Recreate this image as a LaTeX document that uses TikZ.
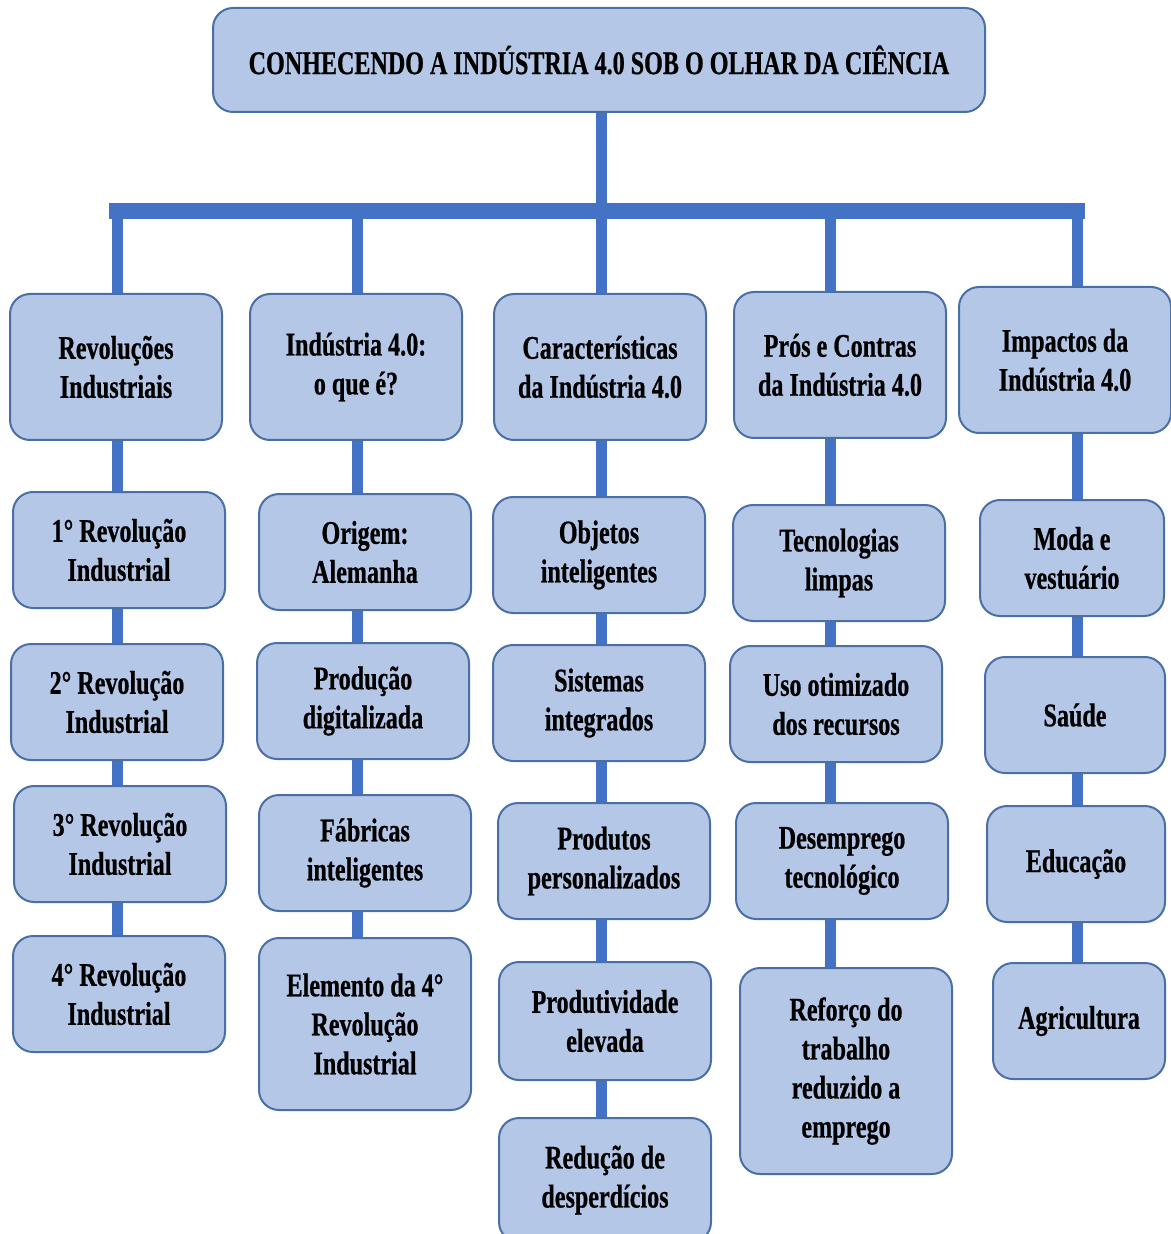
\documentclass[tikz,border=0pt]{standalone}
\usepackage{fontspec}
\setmainfont{Liberation Serif}[FakeStretch=0.73, BoldFeatures={FakeBold=0.6}]
\definecolor{boxfill}{HTML}{B4C7E7}
\definecolor{boxline}{HTML}{4A6FA5}
\definecolor{linkblue}{HTML}{4472C4}
\begin{document}
\begin{tikzpicture}[x=0.5pt, y=-0.5pt,
    box/.style={draw=boxline, fill=boxfill, line width=1pt, rounded corners=10pt,
        align=center, inner sep=2pt, minimum width=106pt, minimum height=58pt,
        font=\fontsize{16.5}{19.5}\selectfont\bfseries},
    link/.style={draw=linkblue, line width=5.5pt},
    bar/.style={draw=linkblue, line width=8pt, line cap=rect}]
\useasboundingbox (0,0) rectangle (1170,1234);

% title
\node[box, minimum width=386pt, minimum height=52pt] (T) at (599,60) {CONHECENDO A INDÚSTRIA 4.0 SOB O OLHAR DA CIÊNCIA};

% column tops
\coordinate (s) at (601,211);
\coordinate (t1) at (117,211);
\coordinate (t2) at (357,211);
\coordinate (t3) at (601,211);
\coordinate (t4) at (830,211);
\coordinate (t5) at (1077,211);

% column 1
\node[box, minimum height=73pt] (R) at (116,367) {Revoluções\\Industriais};
\node[box] (R1) at (119,550) {1° Revolução\\Industrial};
\node[box] (R2) at (117,702) {2° Revolução\\Industrial};
\node[box] (R3) at (120,844) {3° Revolução\\Industrial};
\node[box] (R4) at (119,994) {4° Revolução\\Industrial};

% column 2
\node[box, minimum height=73pt] (I) at (356,367) {Indústria 4.0:\\o que é?};
\node[box] (I1) at (365,552) {Origem:\\Alemanha};
\node[box] (I2) at (363,701) {Produção\\digitalizada};
\node[box] (I3) at (365,853) {Fábricas\\inteligentes};
\node[box, minimum height=86pt] (I4) at (365,1024) {Elemento da 4°\\Revolução\\Industrial};

% column 3
\node[box, minimum height=73pt] (C) at (600,367) {Características\\da Indústria 4.0};
\node[box] (C1) at (599,555) {Objetos\\inteligentes};
\node[box] (C2) at (599,703) {Sistemas\\integrados};
\node[box] (C3) at (604,861) {Produtos\\personalizados};
\node[box, minimum height=59pt] (C4) at (605,1021) {Produtividade\\elevada};
\node[box, minimum height=62pt] (C5) at (605,1180) {Redução de\\desperdícios};

% column 4
\node[box, minimum height=73pt] (P) at (840,365) {Prós e Contras\\da Indústria 4.0};
\node[box] (P1) at (839,563) {Tecnologias\\limpas};
\node[box] (P2) at (836,704) {Uso otimizado\\dos recursos};
\node[box] (P3) at (842,861) {Desemprego\\tecnológico};
\node[box, minimum height=103pt] (P4) at (846,1071) {Reforço do\\trabalho\\reduzido a\\emprego};

% column 5
\node[box, minimum width=106pt, minimum height=73pt] (M) at (1065,360) {Impactos da\\Indústria 4.0};
\node[box, minimum width=92pt] (M1) at (1072,558) {Moda e\\vestuário};
\node[box, minimum width=90pt] (M2) at (1075,715) {Saúde};
\node[box, minimum width=89pt] (M3) at (1076,864) {Educação};
\node[box, minimum width=86pt] (M4) at (1079,1021) {Agricultura};

% links
\draw[link] (T.south -| s) -- (s);
\draw[bar] (t1) -- (t5);
\draw[link] (t1) -- (t1 |- R.north);
\draw[link] (t2) -- (t2 |- I.north);
\draw[link] (t3) -- (t3 |- C.north);
\draw[link] (t4) -- (t4 |- P.north);
\draw[link] (t5) -- (t5 |- M.north);

\draw[link] (t1 |- R.south) -- (t1 |- R1.north);
\draw[link] (t1 |- R1.south) -- (t1 |- R2.north);
\draw[link] (t1 |- R2.south) -- (t1 |- R3.north);
\draw[link] (t1 |- R3.south) -- (t1 |- R4.north);

\draw[link] (t2 |- I.south) -- (t2 |- I1.north);
\draw[link] (t2 |- I1.south) -- (t2 |- I2.north);
\draw[link] (t2 |- I2.south) -- (t2 |- I3.north);
\draw[link] (t2 |- I3.south) -- (t2 |- I4.north);

\draw[link] (t3 |- C.south) -- (t3 |- C1.north);
\draw[link] (t3 |- C1.south) -- (t3 |- C2.north);
\draw[link] (t3 |- C2.south) -- (t3 |- C3.north);
\draw[link] (t3 |- C3.south) -- (t3 |- C4.north);
\draw[link] (t3 |- C4.south) -- (t3 |- C5.north);

\draw[link] (t4 |- P.south) -- (t4 |- P1.north);
\draw[link] (t4 |- P1.south) -- (t4 |- P2.north);
\draw[link] (t4 |- P2.south) -- (t4 |- P3.north);
\draw[link] (t4 |- P3.south) -- (t4 |- P4.north);

\draw[link] (t5 |- M.south) -- (t5 |- M1.north);
\draw[link] (t5 |- M1.south) -- (t5 |- M2.north);
\draw[link] (t5 |- M2.south) -- (t5 |- M3.north);
\draw[link] (t5 |- M3.south) -- (t5 |- M4.north);
\end{tikzpicture}
\end{document}
